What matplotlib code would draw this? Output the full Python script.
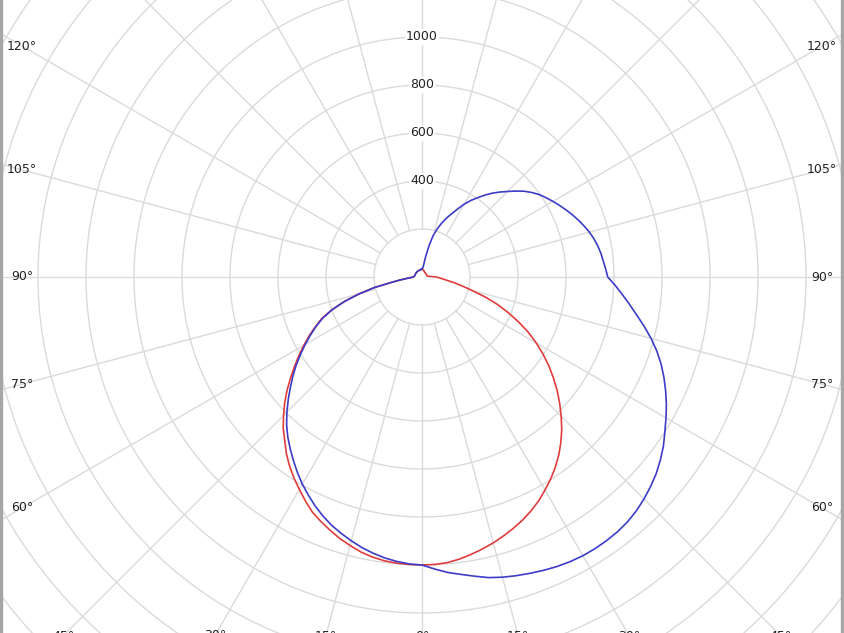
"""Polar luminous intensity diagram (cd), C0-C180 and C90-C270 planes."""
import numpy as np
import matplotlib
matplotlib.use("Agg")
import matplotlib.pyplot as plt
from matplotlib.patches import Rectangle

# gamma angle from nadir, degrees (0 .. 180 in 2.5 deg steps)
gamma = np.arange(0, 180.1, 2.5)

# red plane: C0 on the right, C180 on the left
c0 = [1200, 1199, 1195, 1186, 1174, 1161, 1147, 1131, 1114, 1096, 1075, 1052, 1025, 998, 968, 936, 900, 862,
      820, 778, 735, 690, 645, 598, 550, 500, 445, 390, 335, 275, 215, 170, 135, 105, 85, 70, 60,
      40, 30, 25, 22, 21, 21, 21, 21, 21, 21, 21, 21, 21, 21, 21, 21, 21, 21, 21,
      22, 22, 22, 23, 23, 24, 24, 25, 26, 27, 28, 29, 30, 31, 31, 32, 32]
c180 = [1200, 1199, 1197, 1193, 1185, 1174, 1158, 1142, 1122, 1102, 1081, 1052, 1022, 993, 962, 928, 890, 856,
        816, 776, 734, 690, 648, 608, 568, 530, 490, 452, 400, 340, 272, 205, 130, 90, 62, 46, 36,
        34, 33, 32, 31, 31, 30, 30, 30, 30, 30, 30, 30, 30, 30, 30, 30, 30, 30, 30,
        30, 30, 30, 30, 30, 30, 30, 30, 30, 30, 30, 31, 31, 31, 32, 32, 32]

# blue plane: C90 on the right, C270 on the left
c90 = [1200, 1218, 1236, 1250, 1266, 1283, 1295, 1305, 1314, 1323, 1331, 1337, 1341, 1342, 1341, 1338, 1332, 1322,
       1308, 1292, 1274, 1252, 1228, 1200, 1174, 1148, 1120, 1091, 1060, 1026, 988, 948, 908, 872, 838, 806, 774,
       766, 758, 752, 744, 734, 722, 708, 693, 678, 662, 646, 630, 614, 598, 578, 556, 530, 504, 480, 456,
       430, 403, 378, 350, 318, 290, 265, 238, 210, 178, 130, 84, 48, 38, 36, 35]
c270 = [1200, 1197, 1190, 1181, 1169, 1155, 1138, 1120, 1101, 1078, 1053, 1025, 997, 966, 934, 902, 870, 835,
        796, 756, 716, 678, 640, 600, 562, 524, 487, 448, 398, 338, 270, 203, 128, 88, 60, 45, 36,
        34, 33, 32, 31, 31, 30, 30, 30, 30, 30, 30, 30, 30, 30, 30, 30, 30, 30, 30,
        30, 30, 30, 30, 30, 30, 30, 30, 30, 30, 30, 31, 32, 33, 34, 35, 35]

radial_labels = [400, 600, 800, 1000]
angle_labels = [0, 15, 30, 45, 60, 75, 90, 105, 120]

W, H = 844, 633
CX, CY = 422, 277          # pole position in pixels (from top left)
PX_PER_CD = 0.24
R_MAX = 2400
GRID = "#dadada"
TXT = "#222222"

fig = plt.figure(figsize=(W / 100, H / 100), dpi=100)
fig.patch.set_facecolor("white")
rpx = R_MAX * PX_PER_CD
ax = fig.add_axes([(CX - rpx) / W, (H - CY - rpx) / H, 2 * rpx / W, 2 * rpx / H], projection="polar")
ax.set_theta_zero_location("S")
ax.set_theta_direction(1)
ax.set_ylim(0, R_MAX)
ax.set_xticks([])
ax.set_yticks([])
ax.grid(False)
ax.spines["polar"].set_visible(False)

# grid: circles every 200 cd, spokes every 15 deg starting at the first circle
full = np.linspace(0, 2 * np.pi, 721)
for r in range(200, R_MAX + 1, 200):
    ax.plot(full, np.full_like(full, r), color=GRID, lw=1.0, zorder=1)
for a in range(0, 360, 15):
    t = np.radians(a)
    ax.plot([t, t], [200, R_MAX], color=GRID, lw=1.0, zorder=1)


def plane(left, right):
    th = np.radians(np.concatenate([-gamma[::-1], gamma[1:]]))
    r = np.concatenate([np.array(left)[::-1], np.array(right)[1:]])
    return th, r


th, r = plane(c180, c0)
ax.plot(th, r, color="#e03c3c", lw=1.2, zorder=3)
th, r = plane(c270, c90)
ax.plot(th, r, color="#3c3cc8", lw=1.2, zorder=4)

for v in radial_labels:
    ax.text(np.pi, v, str(v), ha="center", va="center", fontsize=9, color=TXT, zorder=5,
            bbox=dict(fc="white", ec="none", pad=1.0))

# angle labels sit where each spoke meets the view frame
half_w, half_h = 400, 359
for a in angle_labels:
    sides = [1] if a == 0 else [-1, 1]
    for s in sides:
        dx = abs(np.sin(np.radians(a)))
        dy = abs(np.cos(np.radians(a)))
        dist = min(half_w / dx if dx > 1e-9 else 1e9, half_h / dy if dy > 1e-9 else 1e9)
        ax.text(s * np.radians(a), dist / PX_PER_CD, f"{a}°", ha="center", va="center",
                fontsize=9, color=TXT, zorder=5, clip_on=False)

# thin grey frame at the left and right edges
fig.add_artist(Rectangle((0, 0), 2 / W, 1, transform=fig.transFigure, color="#a6a6a6", zorder=10))
fig.add_artist(Rectangle((1 - 3 / W, 0), 3 / W, 1, transform=fig.transFigure, color="#a6a6a6", zorder=10))

fig.savefig("out.png", dpi=100)
